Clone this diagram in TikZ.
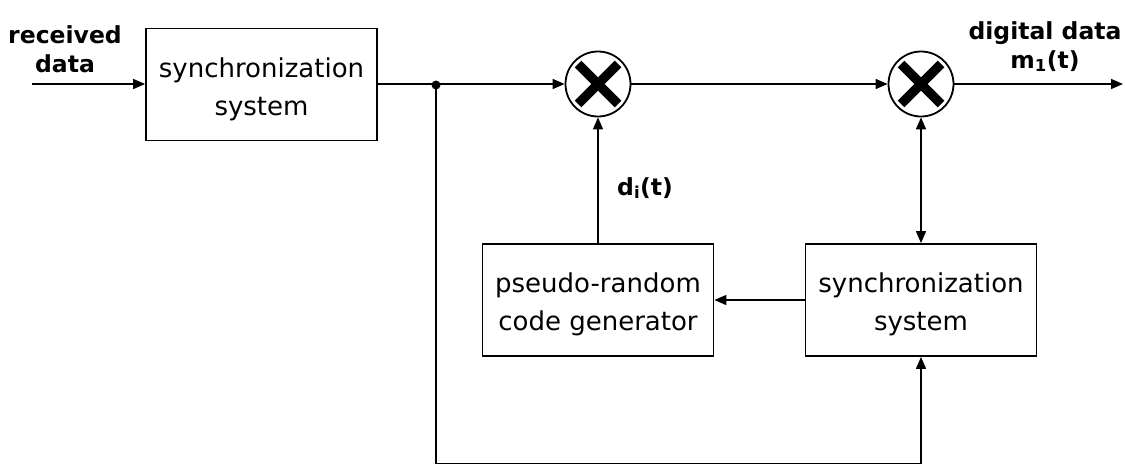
\documentclass[tikz,border=0pt]{standalone}
\usepackage{fontspec}
\setmainfont{DejaVu Sans}
\usetikzlibrary{arrows.meta,calc}
\newcommand\boxtxt{\fontsize{26}{38}\selectfont}
\newcommand\lbltxt{\fontsize{23.5}{29}\selectfont\bfseries}
\tikzset{
  blk/.style={draw, line width=1.8pt, minimum width=231pt, minimum height=112pt,
    inner sep=0pt, align=center, font=\boxtxt, text height=67pt, text depth=6pt},
  mult/.style={draw, circle, line width=1.8pt, minimum size=65pt, inner sep=0pt},
  wire/.style={line width=1.6pt},
  tip/.tip={Triangle[length=12pt,width=10pt]},
  arr/.style={wire, -tip},
  darr/.style={wire, tip-tip},
  lbl/.style={inner sep=0pt, align=center, font=\lbltxt},
  jdot/.style={circle, fill, minimum size=9pt, inner sep=0pt},
  xmark/.style={line width=9.5pt}
}
\begin{document}
\begin{tikzpicture}[x=1pt,y=-1pt]
\useasboundingbox (0,0) rectangle (1125,464);
% blocks
\node[blk] (s1) at (261.5,84.5) {synchronization\\system};
\node[blk] (pr) at (598,300) {pseudo-random\\code generator};
\node[blk] (s2) at (921,300) {synchronization\\system};
% multipliers
\node[mult] (m1) at (598,84) {};
\node[mult] (m2) at (921,84) {};
\draw[xmark] ($(m1.center)+(-20,-20)$) -- ($(m1.center)+(20,20)$);
\draw[xmark] ($(m1.center)+(-20,20)$) -- ($(m1.center)+(20,-20)$);
\draw[xmark] ($(m2.center)+(-20,-20)$) -- ($(m2.center)+(20,20)$);
\draw[xmark] ($(m2.center)+(-20,20)$) -- ($(m2.center)+(20,-20)$);
% coordinates
\coordinate (in) at (32,84);
\coordinate (out) at (1123,84);
\coordinate (b) at (921,463.5);
\node[jdot] (j) at (436,85) {};
% labels
\node[lbl, anchor=base] (lin) at (65,72) {received\\data};
\node[lbl, anchor=base] (lout) at (1045,68) {digital data\\m\textsubscript{1}(t)};
\node[lbl, anchor=base west] (ld) at (617,195) {d\textsubscript{i}(t)};
% connectors
\draw[arr] (in) -- (s1.west |- in);
\draw[arr] (s1.east |- in) -- (m1.west);
\draw[arr] (m1.east) -- (m2.west);
\draw[arr] (m2.east) -- (out);
\draw[arr] (pr.north) -- (m1.south);
\draw[darr] (m2.south) -- (s2.north);
\draw[arr] (s2.west) -- (pr.east);
\draw[arr] (j.center) |- (b) -- (s2.south);
\end{tikzpicture}
\end{document}
